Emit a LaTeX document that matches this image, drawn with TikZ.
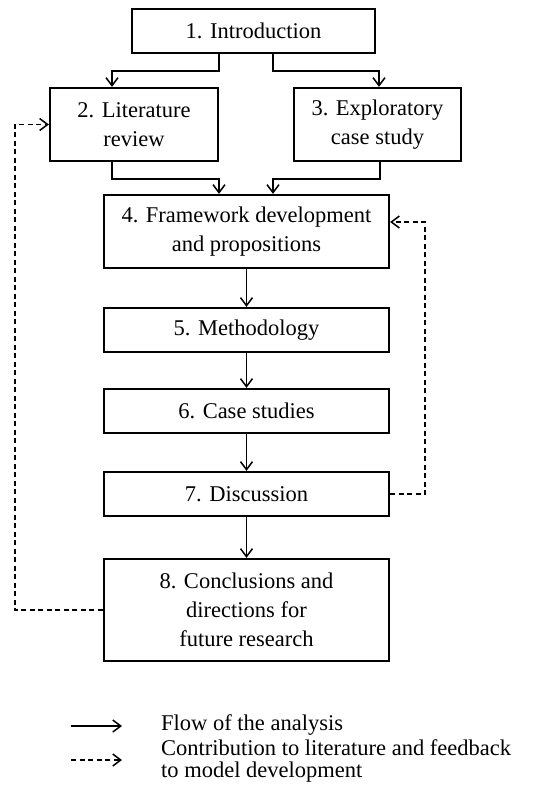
\documentclass[tikz,border=0pt]{standalone}
\usepackage{fontspec}
\setmainfont{Liberation Serif}
\usetikzlibrary{arrows.meta}
\tikzset{
  stage/.style={draw, line width=2.2pt, inner sep=0pt, align=center,
    font=\fontsize{22.5}{29}\selectfont},
  flow/.style={line width=1.5pt, -{Straight Barb[length=8pt,width=12pt,line width=1.5pt]}},
  feedback/.style={flow, dash pattern=on 5pt off 3.5pt},
}

\begin{document}
\begin{tikzpicture}[x=1pt, y=-1pt]
			%%%%% START %%%%%
			\useasboundingbox (0, 0) rectangle (550, 790);
			
			\node[stage, minimum width=243pt, minimum height=44pt] (intro) at (253.5, 31) {1. Introduction};
			\node[stage, minimum width=168pt, minimum height=73pt] (lit) at (134, 124.5) {2. Literature\\review};
			\node[stage, minimum width=167pt, minimum height=73pt] (expl) at (377.5, 124.5) {3. Exploratory\\case study};
			\node[stage, minimum width=285pt, minimum height=73pt] (frame) at (246.5, 231.5) {4. Framework development\\and propositions};
			\node[stage, minimum width=285pt, minimum height=44pt] (meth) at (246.5, 330) {5. Methodology};
			\node[stage, minimum width=285pt, minimum height=44pt] (cases) at (246.5, 411) {6. Case studies};
			\node[stage, minimum width=285pt, minimum height=44pt] (disc) at (246.5, 494) {7. Discussion};
			\node[stage, minimum width=285pt, minimum height=102pt] (concl) at (246.5, 610) {8. Conclusions and\\directions for\\future research};
			
			\draw[flow] ([xshift=-34.5pt]intro.south) -- ++(0, 17) -| ([xshift=-22pt]lit.north);
			\draw[flow] ([xshift=19.5pt]intro.south) -- ++(0, 17) -| ([xshift=1.5pt]expl.north);
			\draw[flow] ([xshift=-22pt]lit.south) -- ++(0, 17) -| ([xshift=-27.5pt]frame.north);
			\draw[flow] ([xshift=2.5pt]expl.south) -- ++(0, 17) -| ([xshift=26.5pt]frame.north);
			
			\draw[flow] (frame) -- (meth);
			\draw[flow] (meth) -- (cases);
			\draw[flow] (cases) -- (disc);
			\draw[flow] (disc) -- (concl);
			
			\draw[feedback] (concl.west) -- ++(-88, 0) |- (lit.west);
			\draw[feedback] (disc.east) -- ++(35, 0) |- ([yshift=9.5pt]frame.east);
			
			% legend
			\coordinate (flowA) at (71, 726);
			\coordinate (flowB) at (122, 726);
			\coordinate (backA) at (71, 760);
			\coordinate (backB) at (122, 760);
			\draw[flow] (flowA) -- (flowB);
			\draw[feedback] (backA) -- (backB);
			\node[anchor=west, inner sep=0pt, font=\fontsize{22.5}{22}\selectfont] (flowtext) at (161, 725) {Flow of the analysis};
			\node[anchor=west, inner sep=0pt, align=left, font=\fontsize{22.5}{22}\selectfont] (backtext) at (161, 761) {Contribution to literature and feedback\\to model development};
			
			%%%%% END %%%%%
		\end{tikzpicture}
\end{document}
